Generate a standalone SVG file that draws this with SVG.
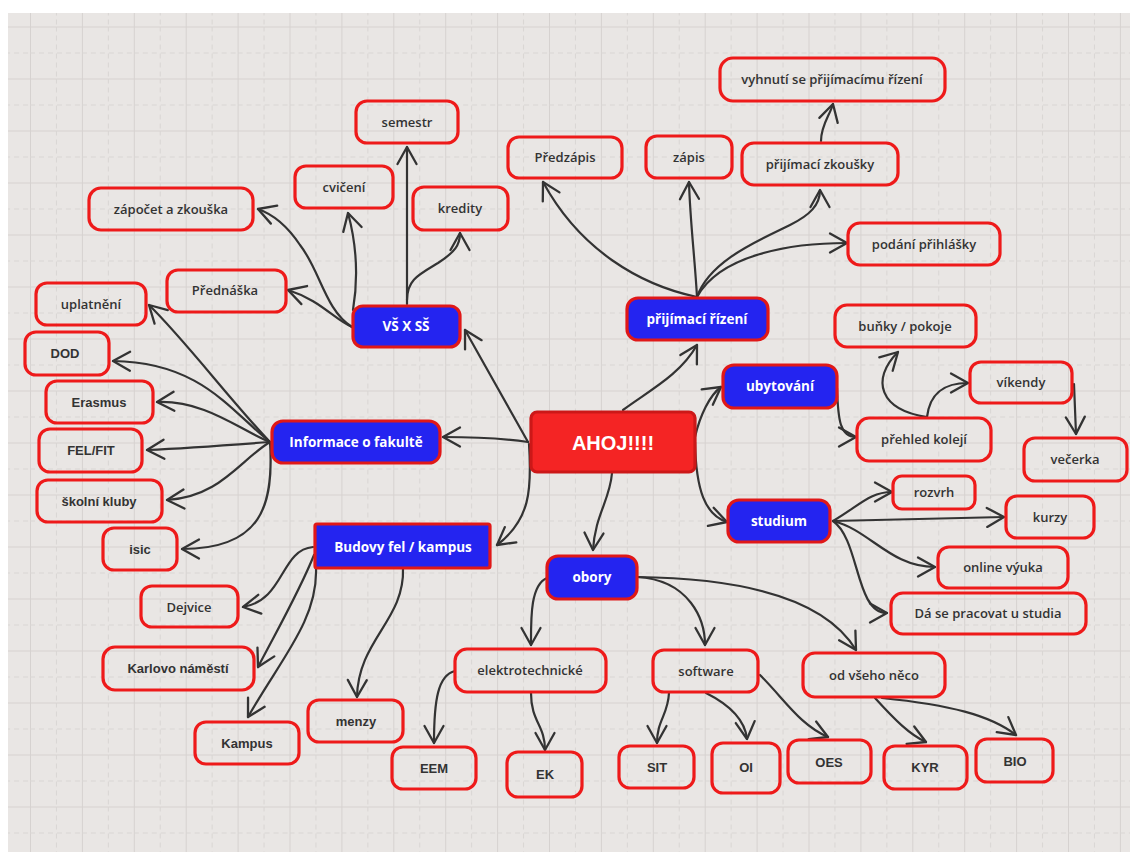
<svg xmlns="http://www.w3.org/2000/svg" width="1130" height="852" viewBox="0 0 1130 852">
<defs>
<pattern id="grid" x="30" y="26.5" width="51.9" height="52" patternUnits="userSpaceOnUse">
<line x1="0.5" y1="0" x2="0.5" y2="52" stroke="#d6d2d0" stroke-width="1"/>
<line x1="0" y1="0.5" x2="51.9" y2="0.5" stroke="#d6d2d0" stroke-width="1"/>
<line x1="26.4" y1="0" x2="26.4" y2="52" stroke="#d9d5d3" stroke-width="1" stroke-dasharray="5 4"/>
<line x1="0" y1="26.5" x2="51.9" y2="26.5" stroke="#d9d5d3" stroke-width="1" stroke-dasharray="5 4"/>
</pattern>
<marker id="arr" viewBox="-20 -12 23 24" refX="0" refY="0" markerWidth="23" markerHeight="24" markerUnits="userSpaceOnUse" orient="auto">
<path d="M-17,-9.5 L0,0 L-17,9.5" fill="none" stroke="#333333" stroke-width="2.3" stroke-linecap="round" stroke-linejoin="round"/>
</marker>
<style>
.n rect{fill:none;stroke:#ee1a1a;stroke-width:3.2}
.b rect{fill:#2424f0;stroke:#e01818;stroke-width:3.2}
.t{font-family:"Open Sans","Liberation Sans",sans-serif;font-weight:600;font-size:13px;fill:#333333;text-anchor:middle;dominant-baseline:central}
.a{font-family:"Liberation Sans",Arial,sans-serif;font-weight:700;font-size:13px;fill:#333333;text-anchor:middle;dominant-baseline:central}
.w{font-family:"Open Sans","Liberation Sans",sans-serif;font-weight:700;font-size:13.5px;fill:#ffffff;text-anchor:middle;dominant-baseline:central}
#edges path{fill:none;stroke:#333333;stroke-width:2.2;stroke-linecap:round;marker-end:url(#arr)}
</style>
</defs>
<rect x="0" y="0" width="1130" height="852" fill="#ffffff"/>
<rect x="8" y="13" width="1122" height="839" fill="#e9e6e4"/>
<rect x="8" y="13" width="1122" height="839" fill="url(#grid)"/>

<g id="edges">
<!-- AHOJ -->
<path d="M528,442 L465,330"/>
<path d="M528,442 C500,438 470,437 443,437"/>
<path d="M529,444 C532,490 530,520 497,545"/>
<path d="M623,410 C650,390 680,375 697,345"/>
<path d="M695,437 C700,415 710,395 721,387"/>
<path d="M695,442 C696,490 705,515 727,522"/>
<path d="M612,473 C610,500 595,515 593,550"/>
<!-- VS x SS -->
<path d="M407,304 L407,147"/>
<path d="M407,300 C407,280 418,275 438,263 C455,252 460,245 460,233"/>
<path d="M353,310 C358,280 358,250 348,213"/>
<path d="M352,327 C325,310 320,270 300,245 C290,230 275,215 258,209"/>
<path d="M352,327 C335,320 320,300 288,290"/>
<!-- Informace -->
<path d="M270,442 C230,400 185,340 149,305"/>
<path d="M270,442 C230,410 200,362 113,361"/>
<path d="M270,442 C240,430 205,400 157,402"/>
<path d="M270,442 C230,445 190,448 147,450"/>
<path d="M270,442 C240,460 220,497 167,500"/>
<path d="M270,442 C274,505 262,549 182,549"/>
<!-- Budovy -->
<path d="M313,547 C280,550 285,600 243,607"/>
<path d="M314,555 C300,590 280,625 258,667"/>
<path d="M316,568 C318,620 280,660 248,717"/>
<path d="M403,568 C405,620 358,640 357,697"/>
<!-- obory -->
<path d="M547,578 C530,585 531,620 531,645"/>
<path d="M637,577 C690,580 705,620 705,645"/>
<path d="M637,577 C720,578 820,590 856,650"/>
<!-- elektrotechnicke -->
<path d="M455,671 C438,675 434,700 434,743"/>
<path d="M531,693 C531,722 545,725 545,750"/>
<!-- software -->
<path d="M669,693 C668,715 657,720 657,743"/>
<path d="M706,693 C730,705 745,720 747,739"/>
<path d="M760,675 C785,700 800,725 828,737"/>
<!-- od vseho neco -->
<path d="M875,698 C895,720 910,735 926,742"/>
<path d="M882,698 C950,705 990,715 1016,735"/>
<!-- prijimaci rizeni -->
<path d="M697,297 C640,285 580,250 543,182"/>
<path d="M697,297 C695,260 690,220 689,182"/>
<path d="M697,297 C710,260 760,240 790,225 C810,215 820,205 820,190"/>
<path d="M697,297 C720,255 790,243 847,243"/>
<path d="M821,141 C821,125 830,115 833,104"/>
<!-- ubytovani -->
<path d="M837,388 C838,420 840,437 856,437"/>
<path d="M927,417 C880,410 870,380 898,352"/>
<path d="M927,417 C930,392 945,383 968,383"/>
<path d="M1074,384 L1076,434"/>
<!-- studium -->
<path d="M833,521 C860,505 870,492 892,492"/>
<path d="M833,521 L1004,517"/>
<path d="M833,521 C870,530 890,567 935,567"/>
<path d="M833,521 C860,540 855,613 887,613"/>
</g>

<g id="ahoj"><rect x="531" y="412" width="164" height="60" rx="6" fill="#f42424" stroke="#cc1818" stroke-width="3.2"/><text x="613" y="443" font-family="Liberation Sans, Arial, sans-serif" font-weight="700" font-size="20" fill="#ffffff" text-anchor="middle" dominant-baseline="central">AHOJ!!!!</text></g>

<g id="vsxss" class="b"><rect x="353" y="306" width="107" height="41" rx="10"/><text class="w" x="406" y="326">VŠ X SŠ</text></g>
<g id="informace" class="b"><rect x="272" y="421" width="168" height="42" rx="11"/><text class="w" x="356" y="442">Informace o fakultě</text></g>
<g id="budovy" class="b"><rect x="315" y="524" width="175" height="44" rx="2"/><text class="w" x="403" y="547">Budovy fel / kampus</text></g>
<g id="prijimaci-rizeni" class="b"><rect x="627" y="298" width="141" height="42" rx="11"/><text class="w" x="697" y="319">přijímací řízení</text></g>
<g id="ubytovani" class="b"><rect x="723" y="365" width="114" height="43" rx="11"/><text class="w" x="780" y="386">ubytování</text></g>
<g id="studium" class="b"><rect x="728" y="500" width="102" height="42" rx="11"/><text class="w" x="779" y="521">studium</text></g>
<g id="obory" class="b"><rect x="547" y="556" width="90" height="43" rx="11"/><text class="w" x="592" y="577">obory</text></g>

<g id="zapocet" class="n"><rect x="89" y="188" width="164" height="42" rx="12"/><text class="t" x="171" y="209">zápočet a zkouška</text></g>
<g id="cviceni" class="n"><rect x="295" y="166" width="98" height="42" rx="11"/><text class="t" x="344" y="187">cvičení</text></g>
<g id="semestr" class="n"><rect x="356" y="101" width="102" height="42" rx="11"/><text class="t" x="407" y="122">semestr</text></g>
<g id="prednaska" class="n"><rect x="167" y="270" width="119" height="42" rx="11"/><text class="t" x="225" y="290">Přednáška</text></g>
<g id="kredity" class="n"><rect x="413" y="187" width="95" height="43" rx="11"/><text class="t" x="460" y="208">kredity</text></g>
<g id="predzapis" class="n"><rect x="508" y="137" width="114" height="41" rx="11"/><text class="t" x="565" y="157">Předzápis</text></g>
<g id="zapis" class="n"><rect x="646" y="136" width="86" height="42" rx="11"/><text class="t" x="689" y="157">zápis</text></g>
<g id="zkousky" class="n"><rect x="742" y="143" width="156" height="42" rx="12"/><text class="t" x="820" y="164">přijímací zkoušky</text></g>
<g id="vyhnuti" class="n"><rect x="720" y="58" width="225" height="43" rx="13"/><text class="t" x="832" y="79">vyhnutí se přijímacímu řízení</text></g>
<g id="podani" class="n"><rect x="848" y="223" width="152" height="42" rx="12"/><text class="t" x="924" y="244">podání přihlášky</text></g>
<g id="bunky" class="n"><rect x="835" y="305" width="141" height="42" rx="12"/><text class="t" x="905" y="326">buňky / pokoje</text></g>
<g id="vikendy" class="n"><rect x="970" y="362" width="102" height="41" rx="11"/><text class="t" x="1021" y="382">víkendy</text></g>
<g id="prehled" class="n"><rect x="857" y="418" width="134" height="43" rx="12"/><text class="t" x="924" y="439">přehled kolejí</text></g>
<g id="vecerka" class="n"><rect x="1024" y="438" width="103" height="43" rx="11"/><text class="t" x="1075" y="459">večerka</text></g>
<g id="rozvrh" class="n"><rect x="893" y="476" width="82" height="33" rx="9"/><text class="t" x="934" y="492">rozvrh</text></g>
<g id="kurzy" class="n"><rect x="1006" y="496" width="88" height="42" rx="11"/><text class="t" x="1050" y="517">kurzy</text></g>
<g id="online" class="n"><rect x="938" y="547" width="130" height="41" rx="11"/><text class="t" x="1003" y="567">online výuka</text></g>
<g id="pracovat" class="n"><rect x="891" y="593" width="195" height="41" rx="12"/><text class="t" x="988" y="613">Dá se pracovat u studia</text></g>
<g id="uplatneni" class="n"><rect x="36" y="283" width="110" height="42" rx="11"/><text class="t" x="91" y="304">uplatnění</text></g>
<g id="dod" class="n"><rect x="25" y="332" width="84" height="43" rx="11"/><text class="a" x="65" y="353">DOD</text></g>
<g id="erasmus" class="n"><rect x="46" y="381" width="107" height="42" rx="11"/><text class="a" x="99" y="402">Erasmus</text></g>
<g id="felfit" class="n"><rect x="39" y="429" width="103" height="43" rx="11"/><text class="a" x="91" y="450">FEL/FIT</text></g>
<g id="kluby" class="n"><rect x="37" y="480" width="125" height="42" rx="11"/><text class="a" x="99" y="501">školní kluby</text></g>
<g id="isic" class="n"><rect x="103" y="528" width="74" height="42" rx="11"/><text class="a" x="140" y="549">isic</text></g>
<g id="dejvice" class="n"><rect x="141" y="586" width="97" height="41" rx="11"/><text class="t" x="189" y="607">Dejvice</text></g>
<g id="karlovo" class="n"><rect x="103" y="647" width="151" height="43" rx="12"/><text class="a" x="178" y="668">Karlovo náměstí</text></g>
<g id="kampus" class="n"><rect x="195" y="722" width="104" height="42" rx="11"/><text class="a" x="247" y="743">Kampus</text></g>
<g id="menzy" class="n"><rect x="308" y="700" width="95" height="42" rx="11"/><text class="a" x="356" y="721">menzy</text></g>
<g id="elektro" class="n"><rect x="455" y="649" width="151" height="43" rx="12"/><text class="t" x="530" y="670">elektrotechnické</text></g>
<g id="software" class="n"><rect x="653" y="650" width="105" height="42" rx="11"/><text class="t" x="706" y="671">software</text></g>
<g id="odvseho" class="n"><rect x="803" y="653" width="142" height="44" rx="12"/><text class="t" x="874" y="675">od všeho něco</text></g>
<g id="eem" class="n"><rect x="392" y="747" width="84" height="42" rx="11"/><text class="a" x="434" y="768">EEM</text></g>
<g id="ek" class="n"><rect x="507" y="752" width="75" height="45" rx="11"/><text class="a" x="545" y="774">EK</text></g>
<g id="sit" class="n"><rect x="619" y="746" width="75" height="42" rx="11"/><text class="a" x="657" y="767">SIT</text></g>
<g id="oi" class="n"><rect x="712" y="743" width="68" height="50" rx="11"/><text class="a" x="746" y="767">OI</text></g>
<g id="oes" class="n"><rect x="788" y="740" width="83" height="43" rx="11"/><text class="a" x="829" y="762">OES</text></g>
<g id="kyr" class="n"><rect x="884" y="746" width="83" height="43" rx="11"/><text class="a" x="925" y="767">KYR</text></g>
<g id="bio" class="n"><rect x="976" y="739" width="77" height="43" rx="11"/><text class="a" x="1015" y="761">BIO</text></g>
</svg>
